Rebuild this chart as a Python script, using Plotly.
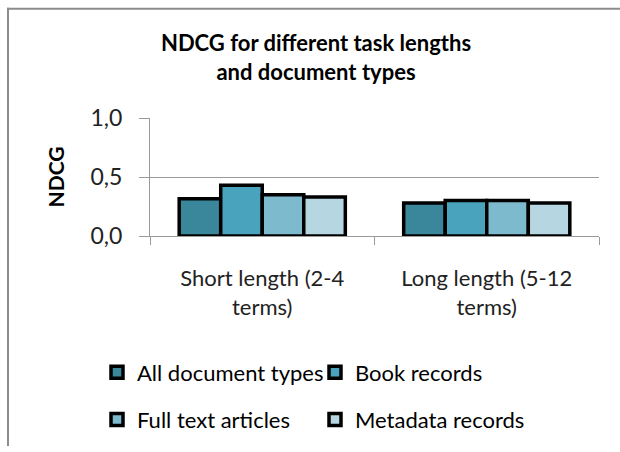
import plotly.graph_objects as go

categories = ["Short length (2-4<br>terms)", "Long length (5-12<br>terms)"]
series_names = ["All document types", "Book records", "Full text articles", "Metadata records"]
all_docs = [0.315, 0.28]
book_records = [0.43, 0.30]
full_text = [0.35, 0.30]
metadata = [0.33, 0.28]
colors = ["#3A869B", "#49A3BC", "#7EBACE", "#B6D6E1"]
y_tickvals = [0.0, 0.5, 1.0]
y_ticktext = ["0,0", "0,5", "1,0"]

FONT = "Lato, 'Open Sans', sans-serif"
values = [all_docs, book_records, full_text, metadata]

W, H = 620, 452
L, R, T, B = 150, 21, 118, 212
pw, ph = W - L - R, H - T - B

fig = go.Figure()
legends = ["legend", "legend", "legend2", "legend2"]
for name, vals, col, lg in zip(series_names, values, colors, legends):
    fig.add_trace(go.Bar(
        x=categories, y=vals, name=name,
        marker=dict(color=col, line=dict(color="black", width=3.5)),
        legend=lg,
    ))

def px_x(px):
    return (px - L) / pw

def px_y(py):
    return (H - B - py) / ph

frame = dict(color="#8c8c8c", width=2)
shapes = [
    dict(type="line", xref="paper", yref="paper", x0=px_x(8), x1=px_x(8),
         y0=px_y(4), y1=px_y(H + 5), line=frame, layer="above"),
    dict(type="line", xref="paper", yref="paper", x0=px_x(7), x1=px_x(W + 5),
         y0=px_y(5), y1=px_y(5), line=frame, layer="above"),
]

leg_common = dict(orientation="h", xanchor="left", yanchor="middle",
                  entrywidth=173, entrywidthmode="pixels", font=dict(size=22),
                  bgcolor="rgba(0,0,0,0)", itemclick=False)

fig.update_layout(
    width=W, height=H,
    margin=dict(l=L, r=R, t=T, b=B),
    paper_bgcolor="white", plot_bgcolor="white",
    font=dict(family=FONT, size=20, color="black"),
    title=dict(text="<b>NDCG for different task lengths<br>and document types</b>",
               x=316 / W, xanchor="center", xref="container",
               y=1 - 51 / H, yanchor="top", yref="container",
               font=dict(size=22, family=FONT)),
    barmode="group", bargap=0.26, bargroupgap=0,
    shapes=shapes,
    legend=dict(x=px_x(97), y=px_y(381), **leg_common),
    legend2=dict(x=px_x(97), y=px_y(430), **leg_common),
)

fig.update_yaxes(
    range=[0, 1.0], tickvals=y_tickvals, ticktext=y_ticktext,
    showgrid=True, gridcolor="#9a9a9a", gridwidth=1,
    showline=True, linecolor="#9a9a9a", linewidth=1,
    ticks="outside", ticklen=10, tickcolor="#9a9a9a",
    tickfont=dict(size=23, color="#222"), ticklabelstandoff=12,
    title=dict(text="<b>NDCG</b>", font=dict(size=21), standoff=20),
    zeroline=False,
)
fig.update_xaxes(
    showline=True, linecolor="#9a9a9a", linewidth=1,
    ticks="outside", ticklen=8, tickcolor="#9a9a9a", tickson="boundaries",
    tickfont=dict(size=22, color="#222"), ticklabelstandoff=23,
    showgrid=False,
)

fig.write_html("out.html", config={"displayModeBar": False},
               post_script="document.body.style.margin='0';document.body.style.overflow='hidden';")
